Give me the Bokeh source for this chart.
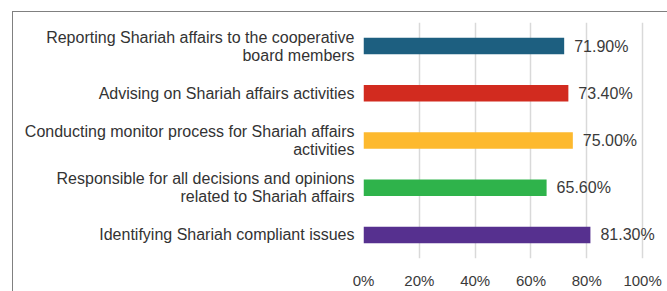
from bokeh.plotting import figure
from bokeh.models import ColumnDataSource, FactorRange, FixedTicker, PrintfTickFormatter, InlineStyleSheet
from bokeh.core.properties import value
from bokeh.embed import file_html
from bokeh.resources import INLINE

categories = [
    "Reporting Shariah affairs to the cooperative\nboard members",
    "Advising on Shariah affairs activities",
    "Conducting monitor process for Shariah affairs\nactivities",
    "Responsible for all decisions and opinions\nrelated to Shariah affairs",
    "Identifying Shariah compliant issues",
]
percentages = [71.9, 73.4, 75.0, 65.6, 81.3]
labels = ["71.90%", "73.40%", "75.00%", "65.60%", "81.30%"]
bar_colors = ["#1D5F80", "#D22B1F", "#FDB92E", "#2FB34B", "#56308F"]
x_ticks = [0, 20, 40, 60, 80, 100]

FONT = "Liberation Sans"

src = ColumnDataSource(dict(cat=categories, val=percentages, lab=labels, color=bar_colors))

# frame spans 363..665 px; 100% falls at ~642 px
p = figure(
    width=667, height=291,
    y_range=FactorRange(factors=list(reversed(categories)), range_padding=0),
    x_range=(0, 108.2),
    output_backend="svg", toolbar_location=None,
    min_border_left=363, min_border_right=2, min_border_top=22, min_border_bottom=22,
)
p.outline_line_color = None
p.background_fill_color = "white"
p.border_fill_color = "white"

p.hbar(y="cat", right="val", left=0, height=0.35, color="color", source=src, line_color=None)
p.text(x="val", y="cat", text="lab", source=src, x_offset=10, text_align="left",
       text_baseline="middle", text_font=value(FONT), text_font_size="16px", text_color="#3a3a3a")

p.xaxis.ticker = FixedTicker(ticks=x_ticks)
p.xaxis.formatter = PrintfTickFormatter(format="%d%%")
p.xaxis.axis_line_color = None
p.xaxis.major_tick_line_color = None
p.xaxis.minor_tick_line_color = None
p.xaxis.major_label_text_font = FONT
p.xaxis.major_label_text_font_size = "15px"
p.xaxis.major_label_text_color = "#3a3a3a"
p.xaxis.major_label_standoff = 7

p.yaxis.axis_line_color = None
p.yaxis.major_tick_line_color = None
p.yaxis.minor_tick_line_color = None
p.yaxis.major_label_text_font = FONT
p.yaxis.major_label_text_font_size = "16px"
p.yaxis.major_label_text_color = "#333333"
p.yaxis.major_label_text_line_height = 1.05
p.yaxis.major_label_standoff = 3

p.xgrid.ticker = FixedTicker(ticks=x_ticks)
p.xgrid.grid_line_color = "#d9d9d9"
p.xgrid.grid_line_width = 1.5
p.ygrid.grid_line_color = None

p.stylesheets = [InlineStyleSheet(css="""
:host::after {
  content: "";
  position: absolute;
  left: 12px; top: 11px; width: 700px; height: 400px;
  border-top: 1.5px solid #808080;
  border-left: 1.5px solid #808080;
  pointer-events: none;
}
""")]

open("out.html", "w").write(file_html(p, INLINE))
